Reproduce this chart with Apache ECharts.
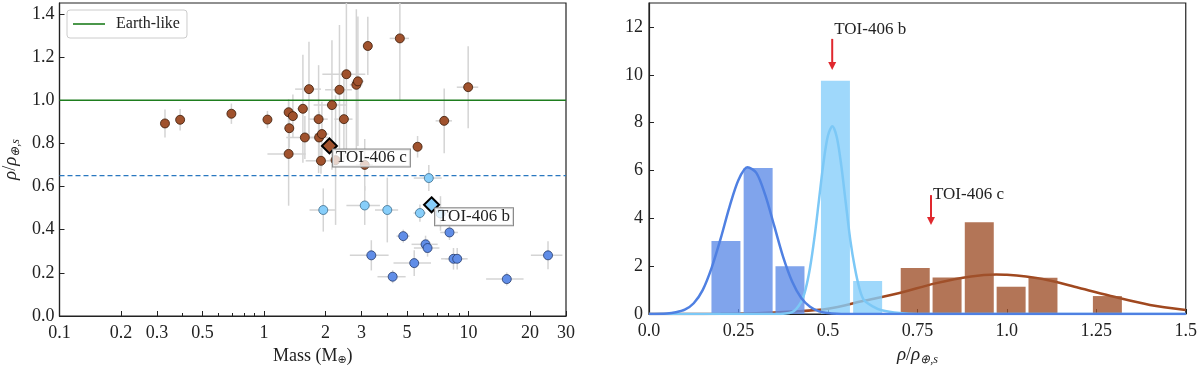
<!DOCTYPE html>
<html>
<head>
<meta charset="utf-8">
<script src="https://cdn.jsdelivr.net/npm/echarts/dist/echarts.min.js"></script>
<style>
  html, body { margin: 0; padding: 0; background: #fff; }
  #chart { width: 1200px; height: 373px; }
</style>
</head>
<body>
<div id="chart"></div>
<script>
// ---- left panel: mass vs scaled density ----
var massTicks = [0.1, 0.2, 0.3, 0.5, 1, 2, 3, 5, 10, 20, 30];
var massMinorTicks = [0.4, 0.6, 0.7, 0.8, 0.9, 4, 6, 7, 8, 9];

// rocky (brown) planets
var rockyMass = [0.328, 0.389, 0.693, 1.04, 1.32, 1.385, 1.33, 1.32, 1.55, 1.66, 1.585, 1.85, 1.86, 1.92,
                 2.15, 2.34, 2.53, 2.83, 2.88, 2.46, 3.22, 4.62, 9.97, 7.61, 1.90, 2.24, 3.11, 5.64];
var rockyRho = [0.892, 0.909, 0.937, 0.910, 0.944, 0.926, 0.870, 0.751, 0.960, 1.051, 0.827, 0.912, 0.827, 0.843,
                0.977, 1.048, 1.120, 1.071, 1.087, 0.912, 1.251, 1.286, 1.060, 0.904, 0.719, 0.722, 0.700, 0.784];
var rockyMassErr = [0.01, 0.01, 0.02, 0.03, 0.05, 0.06, 0.05, 0.28, 0.1, 0.24, 0.3, 0.2, 0.2, 0.15,
                    0.4, 0.35, 0.6, 0.2, 0.2, 0.25, 0.15, 0.5, 1.2, 0.7, 0.3, 0.15, 0.3, 0.3];
var rockyRhoErr = [0.065, 0.05, 0.047, 0.04, 0.06, 0.1, 0.09, 0.24, 0.25, 0.22, 0.1, 0.25, 0.12, 0.15,
                   0.3, 0.3, 0.35, 0.35, 0.3, 0.2, 0.135, 0.29, 0.19, 0.15, 0.06, 0.3, 0.12, 0.05];

// water-world (light blue) planets
var waterMass = [1.95, 3.11, 6.40, 4.01, 5.79, 7.30];
var waterRho = [0.491, 0.512, 0.639, 0.491, 0.477, 0.475];
var waterMassErr = [0.28, 0.58, 1.0, 0.52, 0.4, 0.5];
var waterRhoErr = [0.1, 0.09, 0.06, 0.15, 0.04, 0.08];

// puffy (blue) planets
var puffyMass = [4.80, 8.08, 6.17, 6.31, 3.35, 5.43, 4.26, 8.45, 8.81, 15.4, 24.5];
var puffyRho = [0.370, 0.387, 0.332, 0.315, 0.281, 0.245, 0.182, 0.265, 0.265, 0.171, 0.281];
var puffyMassErr = [0.35, 0.8, 0.9, 0.9, 0.72, 1.13, 0.67, 1.1, 1.1, 3.2, 4.3];
var puffyRhoErr = [0.03, 0.035, 0.04, 0.04, 0.07, 0.06, 0.03, 0.05, 0.05, 0.03, 0.065];

// TOI-406 planets
var toiNames = ['TOI-406 c', 'TOI-406 b'];
var toiMass = [2.09, 6.60];
var toiRho = [0.788, 0.515];

var earthX = [0.1, 30], earthY = [1.0, 1.0];
var cutX = [0.1, 30], cutY = [0.65, 0.65];

// ---- right panel: histograms of scaled density ----
var puffyBinCenters = [0.215, 0.305, 0.394];
var puffyBinHeights = [3.05, 6.1, 2.0];
var waterBinCenters = [0.521, 0.611];
var waterBinHeights = [9.75, 1.38];
var rockyBinCenters = [0.744, 0.833, 0.923, 1.012, 1.101, 1.281];
var rockyBinHeights = [1.92, 1.53, 3.83, 1.14, 1.52, 0.75];

var puffyCurveX = [0, 0.05, 0.075, 0.1, 0.125, 0.15, 0.175, 0.2, 0.225, 0.25, 0.275, 0.3, 0.325, 0.35, 0.375,
                   0.4, 0.425, 0.45, 0.475, 0.5, 0.525, 0.55, 0.6, 1.5];
var puffyCurveY = [0, 0.02, 0.07, 0.18, 0.45, 1.0, 1.93, 3.14, 4.48, 5.6, 6.13, 5.9, 4.97, 3.68, 2.38,
                   1.36, 0.68, 0.3, 0.11, 0.04, 0.01, 0, 0, 0];
var waterCurveX = [0, 0.35, 0.4, 0.425, 0.4375, 0.45, 0.4625, 0.475, 0.4875, 0.5, 0.5125, 0.525, 0.5375, 0.55,
                   0.5625, 0.575, 0.5875, 0.6, 0.625, 0.65, 0.7, 0.75, 1.5];
var waterCurveY = [0, 0, 0.08, 0.5, 1.03, 1.93, 3.21, 4.76, 6.31, 7.45, 7.85, 7.38, 6.19, 4.63,
                   3.1, 1.95, 1.1, 0.6, 0.32, 0.16, 0.04, 0, 0];
var rockyCurveX = [0, 0.1, 0.2, 0.3, 0.4, 0.5, 0.6, 0.7, 0.8, 0.9, 0.97, 1.0, 1.1, 1.2, 1.3, 1.4, 1.5];
var rockyCurveY = [0, 0, 0.01, 0.03, 0.1, 0.22, 0.55, 0.88, 1.28, 1.57, 1.65, 1.64, 1.46, 1.1, 0.72, 0.38, 0.17];

var arrowX = [0.512, 0.788];
var arrowTop = [11.5, 4.97];
var arrowTip = [10.2, 3.72];
var arrowTextY = [11.9, 5.0];
var arrowText = ['TOI-406 b', 'TOI-406 c'];

var FONT = 'Liberation Serif';
var BROWN = '#a0522d', LIGHT = '#87cefa', BLUE = '#608de7';

function zip(a, b) { return a.map(function (v, i) { return [v, b[i]]; }); }
function errRows(m, r, me, re) { return m.map(function (v, i) { return [v, r[i], me[i], re[i]]; }); }

var errData = errRows(rockyMass, rockyRho, rockyMassErr, rockyRhoErr)
  .concat(errRows(waterMass, waterRho, waterMassErr, waterRhoErr))
  .concat(errRows(puffyMass, puffyRho, puffyMassErr, puffyRhoErr));

var chart = echarts.init(document.getElementById('chart'));

function histSeries(centers, heights, color) {
    return {
        type: 'custom',
        xAxisIndex: 2, yAxisIndex: 1,
        z: 3,
        data: zip(centers, heights),
        renderItem: function (params, api) {
            var c = api.value(0), h = api.value(1), w = 0.081;
            var p0 = api.coord([c - w / 2, h]);
            var p1 = api.coord([c + w / 2, 0]);
            return {
                type: 'rect',
                shape: { x: p0[0], y: p0[1], width: p1[0] - p0[0], height: p1[1] - p0[1] },
                style: { fill: color, opacity: 0.8 }
            };
        }
    };
}

function curveSeries(xs, ys, color, z) {
    return {
        type: 'line',
        xAxisIndex: 2, yAxisIndex: 1,
        data: zip(xs, ys),
        symbol: 'none',
        smooth: 0.3,
        z: z,
        lineStyle: { color: color, width: 2.5 },
        silent: true
    };
}

var axisCommon = {
    axisLine: { show: true, lineStyle: { color: '#222', width: 1.2 } },
    axisTick: { inside: true, length: 5, lineStyle: { color: '#222' } },
    splitLine: { show: false },
    axisLabel: { color: '#222', fontFamily: FONT, fontSize: 18 }
};

chart.setOption({
    animation: false,
    backgroundColor: '#fff',
    textStyle: { fontFamily: FONT },
    grid: [
        { left: 58, top: 3, width: 508, height: 313, show: true, borderColor: '#222', borderWidth: 1.2 },
        { left: 649, top: 3, width: 537, height: 311, show: true, borderColor: '#222', borderWidth: 1.2 }
    ],
    legend: {
        data: [{ name: 'Earth-like', icon: 'rect' }],
        left: 67, top: 10,
        orient: 'vertical',
        itemWidth: 32, itemHeight: 1.6,
        padding: [6, 7, 6, 6],
        borderColor: '#ccc', borderWidth: 1, borderRadius: 3,
        backgroundColor: '#fff',
        textStyle: { fontFamily: FONT, fontSize: 16, color: '#222', padding: [0, 0, 0, 6] }
    },
    xAxis: [
        Object.assign({}, axisCommon, {
            type: 'log', gridIndex: 0, min: 0.1, max: 30, logBase: 10,
            name: 'Mass (M{s|⊕})', nameLocation: 'middle', nameGap: 28,
            nameTextStyle: { fontFamily: FONT, fontSize: 18, color: '#222',
                rich: { s: { fontFamily: 'DejaVu Sans', fontSize: 11, padding: [9, 0, 0, 0] } } },
            axisTick: { inside: true, length: 5, lineStyle: { color: '#222' }, customValues: massTicks },
            axisLabel: { color: '#222', fontFamily: FONT, fontSize: 18, margin: 8, customValues: massTicks,
                formatter: function (v) { return String(+(+v).toPrecision(2)); } }
        }),
        {
            type: 'log', gridIndex: 0, min: 0.1, max: 30, logBase: 10, position: 'bottom',
            axisLine: { show: false },
            axisTick: { inside: true, length: 3, lineStyle: { color: '#222' }, customValues: massMinorTicks },
            axisLabel: { show: false },
            splitLine: { show: false }
        },
        Object.assign({}, axisCommon, {
            type: 'value', gridIndex: 1, min: 0, max: 1.5, interval: 0.25,
            name: '{i|ρ}/{i|ρ}{s|⊕,s}', nameLocation: 'middle', nameGap: 30,
            nameTextStyle: { fontFamily: FONT, fontSize: 18, color: '#222',
                rich: { i: { fontFamily: FONT, fontStyle: 'italic', fontSize: 19 },
                        s: { fontFamily: FONT, fontStyle: 'italic', fontSize: 12, padding: [10, 0, 0, 0] } } },
            axisLabel: { color: '#222', fontFamily: FONT, fontSize: 18, margin: 8,
                formatter: function (v) { return v === 0 ? '0.0' : (v === 1 ? '1.0' : String(v)); } }
        })
    ],
    yAxis: [
        Object.assign({}, axisCommon, {
            type: 'value', gridIndex: 0, min: 0, max: 1.45, interval: 0.2,
            name: '{i|ρ}/{i|ρ}{s|⊕,s}', nameLocation: 'middle', nameGap: 38, nameRotate: 90,
            nameTextStyle: { fontFamily: FONT, fontSize: 18, color: '#222',
                rich: { i: { fontFamily: FONT, fontStyle: 'italic', fontSize: 19 },
                        s: { fontFamily: FONT, fontStyle: 'italic', fontSize: 12, padding: [10, 0, 0, 0] } } },
            axisLabel: { color: '#222', fontFamily: FONT, fontSize: 18, margin: 5, showMaxLabel: false,
                formatter: function (v) { return v.toFixed(1); } }
        }),
        Object.assign({}, axisCommon, {
            type: 'value', gridIndex: 1, min: 0, max: 13, interval: 2,
            axisLabel: { color: '#222', fontFamily: FONT, fontSize: 18, margin: 6, showMaxLabel: false }
        })
    ],
    series: [
        {
            name: 'Earth-like', type: 'line', xAxisIndex: 0, yAxisIndex: 0,
            data: zip(earthX, earthY), symbol: 'none', z: 2,
            lineStyle: { color: '#1e7d1e', width: 1.5 }, itemStyle: { color: '#1e7d1e' }
        },
        {
            name: 'cut', type: 'line', xAxisIndex: 0, yAxisIndex: 0,
            data: zip(cutX, cutY), symbol: 'none', z: 2,
            lineStyle: { color: '#2a78c0', width: 1.3, type: [5, 3] }
        },
        {
            type: 'custom', xAxisIndex: 0, yAxisIndex: 0, z: 1,
            data: errData,
            encode: { x: 0, y: 1 },
            renderItem: function (params, api) {
                var m = api.value(0), r = api.value(1), me = api.value(2), re = api.value(3);
                var top = Math.min(r + re, 1.45), bot = Math.max(r - re, 0);
                var h0 = api.coord([Math.max(m - me, 0.1), r]), h1 = api.coord([m + me, r]);
                var v0 = api.coord([m, bot]), v1 = api.coord([m, top]);
                var st = { stroke: '#d4d4d4', lineWidth: 1.5 };
                return {
                    type: 'group',
                    children: [
                        { type: 'line', shape: { x1: h0[0], y1: h0[1], x2: h1[0], y2: h1[1] }, style: st },
                        { type: 'line', shape: { x1: v0[0], y1: v0[1], x2: v1[0], y2: v1[1] }, style: st }
                    ]
                };
            }
        },
        {
            type: 'scatter', xAxisIndex: 0, yAxisIndex: 0, z: 4,
            data: zip(rockyMass, rockyRho), symbolSize: 9,
            itemStyle: { color: BROWN, borderColor: '#3a1a08', borderWidth: 0.8, opacity: 1 }
        },
        {
            type: 'scatter', xAxisIndex: 0, yAxisIndex: 0, z: 4,
            data: zip(waterMass, waterRho), symbolSize: 9,
            itemStyle: { color: LIGHT, borderColor: '#3d6c8c', borderWidth: 0.8, opacity: 1 }
        },
        {
            type: 'scatter', xAxisIndex: 0, yAxisIndex: 0, z: 4,
            data: zip(puffyMass, puffyRho), symbolSize: 9,
            itemStyle: { color: BLUE, borderColor: '#23386a', borderWidth: 0.8, opacity: 1 }
        },
        {
            type: 'scatter', xAxisIndex: 0, yAxisIndex: 0, z: 5,
            symbol: 'diamond', symbolSize: 15,
            data: toiMass.map(function (m, i) {
                return { value: [m, toiRho[i]], name: toiNames[i],
                         itemStyle: { color: i === 0 ? BROWN : LIGHT } };
            }),
            itemStyle: { borderColor: '#000', borderWidth: 2, opacity: 1 },
            label: {
                show: true, position: [12, 12],
                formatter: '{b}',
                fontFamily: FONT, fontSize: 17, color: '#222',
                backgroundColor: 'rgba(255,255,255,0.75)',
                borderColor: '#888', borderWidth: 1,
                padding: [0, 3, 0, 3], lineHeight: 17
            }
        },
        // right panel
        curveSeries(rockyCurveX, rockyCurveY, '#a0481f', 2),
        histSeries(puffyBinCenters, puffyBinHeights, BLUE),
        histSeries(waterBinCenters, waterBinHeights, LIGHT),
        histSeries(rockyBinCenters, rockyBinHeights, BROWN),
        curveSeries(waterCurveX, waterCurveY, '#7cc8f6', 4),
        curveSeries(puffyCurveX, puffyCurveY, '#4f80e2', 5),
        {
            type: 'custom', xAxisIndex: 2, yAxisIndex: 1, z: 6,
            data: arrowX.map(function (x, i) { return [x, arrowTop[i], arrowTip[i], arrowTextY[i]]; }),
            renderItem: function (params, api) {
                var i = params.dataIndex;
                var p0 = api.coord([api.value(0), api.value(1)]);
                var p1 = api.coord([api.value(0), api.value(2)]);
                var pt = api.coord([api.value(0), api.value(3)]);
                var red = '#e0282e';
                return {
                    type: 'group',
                    children: [
                        { type: 'line', shape: { x1: p0[0], y1: p0[1], x2: p1[0], y2: p1[1] - 6 },
                          style: { stroke: red, lineWidth: 2 } },
                        { type: 'polygon', shape: { points: [[p1[0] - 4, p1[1] - 8], [p1[0] + 4, p1[1] - 8], [p1[0], p1[1]]] },
                          style: { fill: red } },
                        { type: 'text', x: pt[0] + 2, y: pt[1],
                          style: { text: arrowText[i], fill: '#222', font: '17px "Liberation Serif"',
                                   align: 'left', verticalAlign: 'middle' } }
                    ]
                };
            }
        }
    ]
});
</script>
</body>
</html>
